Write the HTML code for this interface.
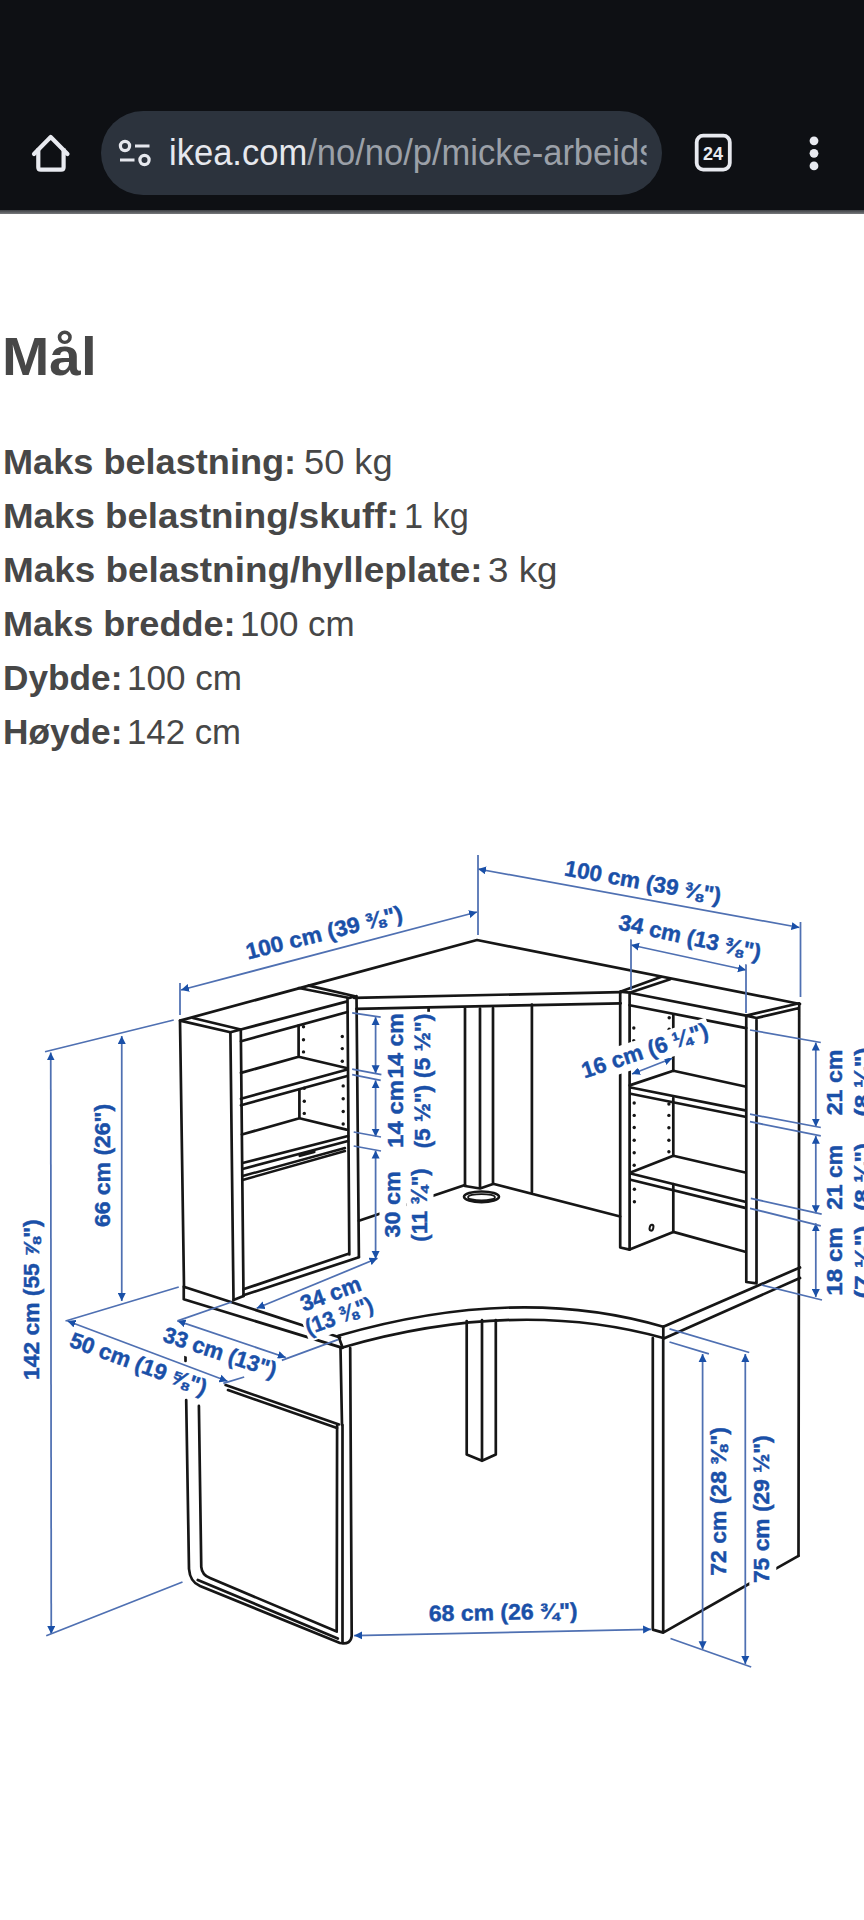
<!DOCTYPE html>
<html><head><meta charset="utf-8">
<style>
html,body{margin:0;padding:0;background:#fff;width:864px;height:1920px;overflow:hidden;position:relative;font-family:"Liberation Sans",sans-serif;}
#bar{position:absolute;left:0;top:0;width:864px;height:211px;background:#0e1014;}
#barline{position:absolute;left:0;top:210px;width:864px;height:4px;background:linear-gradient(#3c3e42,#77797c);}
#pill{position:absolute;left:101px;top:111px;width:561px;height:84px;border-radius:42px;background:#2c333d;}
#url{position:absolute;left:168.6px;top:134.6px;width:498px;overflow:hidden;font-size:36px;line-height:1;color:#e6e8ee;white-space:nowrap;transform:scaleX(0.959);transform-origin:0 0;height:40px;}
#url span{color:#9ba0a8;}
.b,.r,#h{position:absolute;white-space:nowrap;color:#474747;font-size:35.5px;line-height:1;transform-origin:0 0;}
.b{font-weight:bold;}
#h{font-size:53px;font-weight:bold;}
svg{position:absolute;left:0;top:0;}
</style></head><body>
<div id="bar"></div>
<div id="barline"></div>
<div id="pill"></div>
<div id="url">ikea.com<span>/no/no/p/micke-arbeidsplass</span></div>
<svg width="864" height="220" viewBox="0 0 864 220">
  <path d="M34 154 L50.7 137 L67.5 154" fill="none" stroke="#e8eaf0" stroke-width="4.2" stroke-linejoin="round" stroke-linecap="round"/>
  <path d="M38.3 148.5 V167.2 Q38.3 169.7 40.8 169.7 H61.1 Q63.6 169.7 63.6 167.2 V148.5" fill="none" stroke="#e8eaf0" stroke-width="4.2"/>
  <circle cx="125" cy="146" r="4.6" fill="none" stroke="#e6e8ee" stroke-width="3.2"/>
  <path d="M135 146 H149.5 M120 160 H134.5" stroke="#e6e8ee" stroke-width="3.2"/>
  <circle cx="144.5" cy="160" r="4.6" fill="none" stroke="#e6e8ee" stroke-width="3.2"/>
  <rect x="696.7" y="135.7" width="33.1" height="33.9" rx="6.5" fill="none" stroke="#e8eaf0" stroke-width="3.8"/>
  <text x="713" y="160" font-size="18" font-weight="bold" fill="#e8eaf0" text-anchor="middle" font-family="Liberation Sans">24</text>
  <circle cx="814" cy="140.8" r="4.4" fill="#e8eaf0"/><circle cx="814" cy="153.3" r="4.4" fill="#e8eaf0"/><circle cx="814" cy="165.9" r="4.4" fill="#e8eaf0"/>
</svg>

<div id="h" style="left:2.41px;top:329.74px;transform:scaleX(1.0716)">Mål</div>
<div class="b" style="left:2.56px;top:445.35px;transform:scaleX(1.0177)">Maks belastning:</div>
<div class="r" style="left:303.56px;top:445.35px;transform:scaleX(1.0205)">50 kg</div>
<div class="b" style="left:2.53px;top:499.19px;transform:scaleX(1.0340)">Maks belastning/skuff:</div>
<div class="r" style="left:404.20px;top:499.19px;transform:scaleX(0.9661)">1 kg</div>
<div class="b" style="left:2.52px;top:553.03px;transform:scaleX(1.0390)">Maks belastning/hylleplate:</div>
<div class="r" style="left:488.33px;top:553.03px;transform:scaleX(1.0349)">3 kg</div>
<div class="b" style="left:2.57px;top:606.87px;transform:scaleX(1.0164)">Maks bredde:</div>
<div class="r" style="left:240.14px;top:606.87px;transform:scaleX(0.9856)">100 cm</div>
<div class="b" style="left:2.61px;top:660.71px;transform:scaleX(0.9926)">Dybde:</div>
<div class="r" style="left:127.34px;top:660.71px;transform:scaleX(0.9883)">100 cm</div>
<div class="b" style="left:2.61px;top:714.55px;transform:scaleX(0.9926)">Høyde:</div>
<div class="r" style="left:127.36px;top:714.55px;transform:scaleX(0.9793)">142 cm</div>

<!-- DRAWING -->
<svg width="864" height="1920" viewBox="0 0 864 1920" style="position:absolute;left:0;top:0">
<defs>
<marker id="ar" viewBox="0 0 10 10" refX="10" refY="5" markerWidth="8" markerHeight="8.5" markerUnits="userSpaceOnUse" orient="auto-start-reverse"><path d="M0 0 L10 5 L0 10 z" fill="#1a50a8"/></marker>
</defs>
<g fill="none" stroke="#161616" stroke-width="2.7" stroke-linejoin="round" stroke-linecap="round">
<!-- left bookcase -->
<path d="M180 1020.6 L184 1287 M180 1020.6 L477 940 L800 1004"/>
<path d="M180 1020.6 L230.4 1032.3 L240.8 1029.5 L192.9 1018"/>
<path d="M230.4 1032.3 L233.5 1300 M240.8 1029.5 L243.5 1296"/>
<path d="M240.8 1029.5 L346.4 1001.6 M241 1041.3 L347.4 1012"/>
<path d="M298.75 988 L349.4 998 L355 996.25 L308.75 985.6"/>
<path d="M347.5 998 L349.3 1254.5 M356.5 996 L358.9 1257"/>
<path d="M298.6 1025.5 L298.6 1056.7 M241 1072.9 L298.6 1056.7 L346.4 1068 M241 1098.8 L346.4 1069.7 M241 1105.3 L346.4 1076.2"/>
<path d="M299.4 1089.5 L299.4 1118.3 M241.9 1134.5 L299.4 1118.3 L346.4 1129.6 M242.6 1163 L348 1136 M242.6 1169 L348 1141"/>
<path d="M242.6 1176 L345 1148 M242.6 1180 L345 1151" stroke-width="2.4"/>
<path d="M300 1155.5 L314 1151.8" stroke-width="3.2"/>
<path d="M243.4 1289.3 L348.5 1253.7 M243.4 1295.3 L358.9 1257.2 M233.5 1300 L243.5 1296"/>
<!-- hutch middle -->
<path d="M354 997.8 L620.7 992.2 M356.5 1008.9 L620.7 1003.3"/>
<path d="M465 1008.5 L465 1186 L480 1188.5 L493 1184 L493 1008 M480 1008.5 L480 1188.5"/>
<path d="M531.9 1004.5 L531.9 1192 M428.6 1008.5 L428.6 1013"/>
<path d="M358.9 1220.7 L465 1185 M493 1183.7 L620.2 1216.5"/>
<ellipse cx="481.5" cy="1196.8" rx="17.5" ry="5.3" stroke-width="2.6"/>
<ellipse cx="481.5" cy="1197.2" rx="13.5" ry="3.1" stroke-width="1.6"/>
<!-- right bookcase -->
<path d="M620.2 991.7 L620.2 1247.5 L629.6 1249.6 L629.6 992.7 L620.2 991.7 L660.8 977 M629.6 992.7 L670.2 979.2"/>
<path d="M629.6 992.7 L746.25 1015.6 M629.6 1005.2 L746.25 1028.1"/>
<path d="M746.25 1015.6 L746.3 1282 L756.5 1283.3 L756.5 1018 L746.25 1015.6 L799.2 1003.3 M756.5 1018 L799.2 1008 M799.2 1003.3 L798.5 1555.8"/>
<path d="M673.3 1014.6 L673.3 1070.8 M673.3 1098 L673.3 1155.8 M673.3 1184 L673.3 1231.9"/>
<path d="M629.6 1085.4 L673.3 1070.8 L745.2 1086.5 M630.6 1087.5 L745.2 1110.4 M630.6 1093.75 L745.2 1116.7"/>
<path d="M630.6 1172.5 L673.3 1155.8 L745.2 1172.5 M630.6 1173.5 L745.2 1201.7 M630.6 1179.8 L745.2 1207.9"/>
<path d="M629.6 1249.6 L673.3 1231.9 L745.2 1251.7"/>
<ellipse cx="651.5" cy="1227.7" rx="1.8" ry="3" stroke-width="2" transform="rotate(15 651.5 1227.7)"/>
<!-- desk -->
<path d="M183.75 1286.7 L340 1337.5 M183.75 1299.2 L342.5 1347.9 M183.75 1286.7 L183.75 1299.2"/>
<path d="M338.3 1335.8 Q517 1283.8 663.3 1326.7 M342.5 1347.5 Q517 1297.2 663.3 1338 M338.3 1335.8 L342.5 1347.5"/>
<path d="M663.3 1326.7 L663.3 1338.5 M663.3 1326.7 L800 1267.5 M663.3 1338.7 L800 1278"/>
<path d="M340.5 1348 L342 1425 M350.2 1348 L351.7 1636 Q351 1645 340 1643 L200 1586 Q190 1582 189 1569 L186.2 1400"/>
<path d="M342.5 1425 L342.5 1643 M198.9 1405.9 L201.25 1566.8 Q202 1575 210 1578 L336.7 1631.6 L337.1 1425.6 M197.8 1580 L337.8 1638.5"/>
<path d="M225.6 1385 L339 1424.4 M228 1390 L337 1428" stroke-width="2.6"/>
<path d="M185.5 1353 L185.5 1361"/>
<path d="M466.7 1321 L466.7 1454.6 L482 1460.8 L495.8 1454.6 L495.8 1320 M482 1320 L482 1460.8"/>
<path d="M652.8 1338 L652.8 1629.6 L663.2 1632.6 L663.2 1338 M663.2 1632.6 L798.5 1555.8"/>
</g>
<g fill="#161616">
<circle cx="303.5" cy="1026.7" r="1.7"/><circle cx="303.5" cy="1039.7" r="1.7"/><circle cx="303.5" cy="1051.9" r="1.7"/>
<circle cx="342.3" cy="1036.5" r="1.7"/><circle cx="342.3" cy="1048.6" r="1.7"/><circle cx="342.3" cy="1061.3" r="1.7"/>
<circle cx="304.3" cy="1088.3" r="1.7"/><circle cx="304.3" cy="1101.3" r="1.7"/><circle cx="304.3" cy="1113.4" r="1.7"/>
<circle cx="343.2" cy="1085.9" r="1.7"/><circle cx="343.2" cy="1098.8" r="1.7"/><circle cx="343.2" cy="1111.5" r="1.7"/><circle cx="343.2" cy="1124" r="1.7"/>
<circle cx="633.8" cy="1028" r="1.7"/><circle cx="633.8" cy="1040.6" r="1.7"/><circle cx="669.2" cy="1017.7" r="1.7"/><circle cx="669.2" cy="1029.2" r="1.7"/>
<circle cx="634.2" cy="1103" r="1.7"/><circle cx="634.2" cy="1115.4" r="1.7"/><circle cx="634.2" cy="1127.5" r="1.7"/><circle cx="634.2" cy="1140.2" r="1.7"/><circle cx="634.2" cy="1152.7" r="1.7"/><circle cx="634.2" cy="1165.2" r="1.7"/>
<circle cx="668.9" cy="1104" r="1.7"/><circle cx="668.9" cy="1115.4" r="1.7"/><circle cx="668.9" cy="1127.7" r="1.7"/><circle cx="668.9" cy="1140.2" r="1.7"/><circle cx="668.9" cy="1151.7" r="1.7"/>
<circle cx="634.4" cy="1189.2" r="1.7"/><circle cx="634.4" cy="1201.7" r="1.7"/>
</g>
<!-- BLUE DIMS -->
<g fill="none" stroke="#4f70b2" stroke-width="1.75">
<path d="M181 990 L477 912" marker-start="url(#ar)" marker-end="url(#ar)"/>
<path d="M180 983 L180 1015 M45 1051.75 L173.75 1020"/>
<path d="M478 869 L799.5 927.5" marker-start="url(#ar)" marker-end="url(#ar)"/>
<path d="M478 855 L478 935 M800.5 922 L800.5 997"/>
<path d="M631 945 L746 970" marker-start="url(#ar)" marker-end="url(#ar)"/>
<path d="M631 935 L631 990 M746 958 L746 1013"/>
<path d="M632 1074 L672.3 1058.3" marker-start="url(#ar)" marker-end="url(#ar)"/>
<path d="M815.8 1042.5 L815.8 1126.7" marker-start="url(#ar)" marker-end="url(#ar)"/>
<path d="M815.8 1135.8 L815.8 1213.3" marker-start="url(#ar)" marker-end="url(#ar)"/>
<path d="M815.8 1223.3 L815.8 1297" marker-start="url(#ar)" marker-end="url(#ar)"/>
<path d="M750 1030 L820.8 1042.5 M750 1114.2 L820.8 1127.5 M750 1121.7 L820.8 1135.8 M750.8 1198.3 L821.7 1214.2 M750 1208.3 L820.8 1225.8 M761.7 1285 L822 1300"/>
<path d="M375.6 1017.1 L375.6 1073.3" marker-start="url(#ar)" marker-end="url(#ar)"/>
<path d="M375.6 1080.3 L375.6 1136.7" marker-start="url(#ar)" marker-end="url(#ar)"/>
<path d="M375.6 1150.5 L375.6 1259" marker-start="url(#ar)" marker-end="url(#ar)"/>
<path d="M352.2 1012.9 L380.7 1017.1 M352.2 1069.2 L381.4 1074.7 M352.2 1074.7 L380.7 1080.3 M353.7 1132 L381 1137 M353.7 1146 L381 1151"/>
<path d="M50.75 1052.5 L51.25 1634" marker-start="url(#ar)" marker-end="url(#ar)"/>
<path d="M121.75 1036 L121.75 1301" marker-start="url(#ar)" marker-end="url(#ar)"/>
<path d="M46.25 1635.75 L182.5 1582 M65.5 1321 L178.75 1287"/>
<path d="M67.5 1321 L227.5 1381.25" marker-start="url(#ar)" marker-end="url(#ar)"/>
<path d="M223.3 1383.3 L244.2 1377"/>
<path d="M177.5 1320.8 L285.8 1357.5" marker-start="url(#ar)" marker-end="url(#ar)"/>
<path d="M281.7 1360.4 L338 1339.6 M177.5 1320.8 L231.7 1302"/>
<path d="M256.7 1308.3 L377.5 1258.3" marker-start="url(#ar)" marker-end="url(#ar)"/>
<path d="M702.6 1353.9 L702.6 1649.3" marker-start="url(#ar)" marker-end="url(#ar)"/>
<path d="M745.3 1353.9 L745.3 1664" marker-start="url(#ar)" marker-end="url(#ar)"/>
<path d="M669.5 1342 L708.9 1353.9 M669.5 1328.9 L749.25 1352.5 M670.5 1638.5 L751.2 1667"/>
<path d="M354.1 1635.6 L651.1 1629.3" marker-start="url(#ar)" marker-end="url(#ar)"/>
</g>
<g fill="#fff">
<rect transform="matrix(0.9956 -0.2489 0.2425 0.9701 325.94 940.00)" x="-80" y="-20" width="160" height="27"/>
<rect transform="matrix(0.9950 0.1811 -0.1791 0.9838 641.57 889.40)" x="-80" y="-20" width="160" height="27"/>
<rect transform="matrix(0.9819 0.2131 -0.2121 0.9773 688.39 944.61)" x="-75" y="-20" width="149" height="27"/>
<rect transform="matrix(0.9499 -0.3135 0.3134 0.9496 647.21 1057.70)" x="-68" y="-20" width="136" height="27"/>
<rect transform="matrix(0.9390 0.3409 -0.3412 0.9400 135.97 1370.90)" x="-74" y="-20" width="148" height="27"/>
<rect transform="matrix(0.9346 0.3084 -0.3134 0.9496 217.69 1359.50)" x="-62" y="-20" width="124" height="27"/>
<rect transform="matrix(0.9336 -0.3454 0.3470 0.9379 333.14 1300.93)" x="-34" y="-20" width="67" height="27"/>
<rect transform="matrix(0.8868 -0.3281 0.3470 0.9379 341.68 1323.00)" x="-39" y="-20" width="78" height="27"/>
<rect transform="matrix(1.0307 -0.0216 0.0210 0.9998 503.37 1619.80)" x="-74" y="-20" width="148" height="27"/>
<rect transform="matrix(0 -1.0297 1 0 109.70 1165.50)" x="-62" y="-20" width="124" height="27"/>
<rect transform="matrix(0 -1.0247 1 0 38.50 1299.70)" x="-80" y="-20" width="160" height="27"/>
<rect transform="matrix(0 -1.0333 1 0 402.70 1045.90)" x="-33" y="-20" width="66" height="27"/>
<rect transform="matrix(0 -1.0750 1 0 402.70 1113.90)" x="-33" y="-20" width="66" height="27"/>
<rect transform="matrix(0 -1.0475 1 0 399.50 1204.38)" x="-34" y="-20" width="67" height="27"/>
<rect transform="matrix(0 -1.0333 1 0 429.70 1045.90)" x="-33" y="-20" width="66" height="27"/>
<rect transform="matrix(0 -1.0167 1 0 429.70 1116.70)" x="-33" y="-20" width="66" height="27"/>
<rect transform="matrix(0 -0.9931 1 0 426.50 1205.10)" x="-39" y="-20" width="78" height="27"/>
<rect transform="matrix(0 -1.0410 1 0 841.50 1082.48)" x="-34" y="-20" width="67" height="27"/>
<rect transform="matrix(0 -1.0246 1 0 841.50 1177.29)" x="-34" y="-20" width="67" height="27"/>
<rect transform="matrix(0 -1.0833 1 0 841.50 1261.40)" x="-33" y="-20" width="66" height="27"/>
<rect transform="matrix(0 -1.1000 1 0 870.00 1082.00)" x="-33" y="-20" width="66" height="27"/>
<rect transform="matrix(0 -1.0833 1 0 870.00 1176.80)" x="-33" y="-20" width="66" height="27"/>
<rect transform="matrix(0 -1.1667 1 0 870.00 1262.00)" x="-33" y="-20" width="66" height="27"/>
<rect transform="matrix(0 -1.0310 1 0 726.00 1501.40)" x="-74" y="-20" width="148" height="27"/>
<rect transform="matrix(0 -1.0232 1 0 769.30 1509.20)" x="-74" y="-20" width="148" height="27"/>
</g>
<g fill="#1a50a8" font-family="Liberation Sans" font-weight="bold" font-size="22.3" text-anchor="middle" stroke="#1a50a8" stroke-width="0.45">
<text transform="matrix(0.9956 -0.2489 0.2425 0.9701 325.94 940.00)">100 cm (39 ⅜")</text>
<text transform="matrix(0.9950 0.1811 -0.1791 0.9838 641.57 889.40)">100 cm (39 ⅜")</text>
<text transform="matrix(0.9819 0.2131 -0.2121 0.9773 688.39 944.61)">34 cm (13 ⅜")</text>
<text transform="matrix(0.9499 -0.3135 0.3134 0.9496 647.21 1057.70)">16 cm (6 ¼")</text>
<text transform="matrix(0.9390 0.3409 -0.3412 0.9400 135.97 1370.90)">50 cm (19 ⅝")</text>
<text transform="matrix(0.9346 0.3084 -0.3134 0.9496 217.69 1359.50)">33 cm (13")</text>
<text transform="matrix(0.9336 -0.3454 0.3470 0.9379 333.14 1300.93)">34 cm</text>
<text transform="matrix(0.8868 -0.3281 0.3470 0.9379 341.68 1323.00)">(13 ⅜")</text>
<text transform="matrix(1.0307 -0.0216 0.0210 0.9998 503.37 1619.80)">68 cm (26 ¾")</text>
<text transform="matrix(0 -1.0297 1 0 109.70 1165.50)">66 cm (26")</text>
<text transform="matrix(0 -1.0247 1 0 38.50 1299.70)">142 cm (55 ⅞")</text>
<text transform="matrix(0 -1.0333 1 0 402.70 1045.90)">14 cm</text>
<text transform="matrix(0 -1.0750 1 0 402.70 1113.90)">14 cm</text>
<text transform="matrix(0 -1.0475 1 0 399.50 1204.38)">30 cm</text>
<text transform="matrix(0 -1.0333 1 0 429.70 1045.90)">(5 ½")</text>
<text transform="matrix(0 -1.0167 1 0 429.70 1116.70)">(5 ½")</text>
<text transform="matrix(0 -0.9931 1 0 426.50 1205.10)">(11 ¾")</text>
<text transform="matrix(0 -1.0410 1 0 841.50 1082.48)">21 cm</text>
<text transform="matrix(0 -1.0246 1 0 841.50 1177.29)">21 cm</text>
<text transform="matrix(0 -1.0833 1 0 841.50 1261.40)">18 cm</text>
<text transform="matrix(0 -1.1000 1 0 870.00 1082.00)">(8 ¼")</text>
<text transform="matrix(0 -1.0833 1 0 870.00 1176.80)">(8 ¼")</text>
<text transform="matrix(0 -1.1667 1 0 870.00 1262.00)">(7 ⅛")</text>
<text transform="matrix(0 -1.0310 1 0 726.00 1501.40)">72 cm (28 ⅜")</text>
<text transform="matrix(0 -1.0232 1 0 769.30 1509.20)">75 cm (29 ½")</text>
</g>
</svg>

</body></html>
